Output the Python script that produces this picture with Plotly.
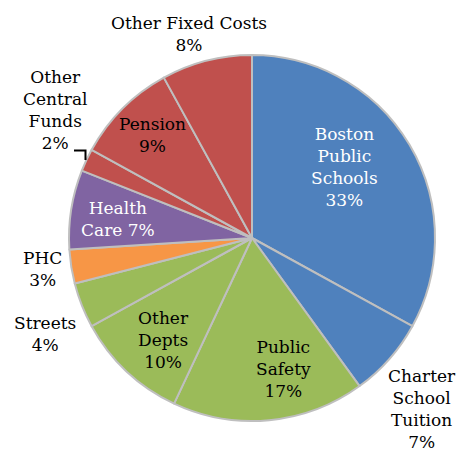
import plotly.graph_objects as go

categories = ["Boston Public Schools", "Charter School Tuition", "Public Safety", "Other Depts",
              "Streets", "PHC", "Health Care", "Other Central Funds", "Pension", "Other Fixed Costs"]
values = [33, 7, 17, 10, 4, 3, 7, 2, 9, 8]
label_texts = ["Boston<br>Public<br>Schools<br>33%", "Charter<br>School<br>Tuition<br>7%",
               "Public<br>Safety<br>17%", "Other<br>Depts<br>10%", "Streets<br>4%", "PHC<br>3%",
               "Health<br>Care 7%", "Other<br>Central<br>Funds<br>2%", "Pension<br>9%",
               "Other Fixed Costs<br>8%"]
colors = ["#4F81BD", "#4F81BD", "#9BBB59", "#9BBB59", "#9BBB59", "#F79646",
          "#8064A2", "#C0504D", "#C0504D", "#C0504D"]
label_colors = ["white", "black", "black", "black", "black", "black",
                "white", "black", "black", "black"]
# label centre positions in pixels (layout)
label_px = [(344, 167), (422, 409), (283, 369), (163, 340), (45, 334), (42, 269),
            (118, 219), (55, 110), (152, 135), (189, 34)]

W, H = 458, 451
ML, MR, MT, MB = 69, 23, 55, 30
PW, PH = W - ML - MR, H - MT - MB

def px2paper(x, y):
    return (x - ML) / PW, (H - MB - y) / PH

fig = go.Figure(go.Pie(
    labels=categories, values=values, sort=False, direction="clockwise", rotation=0,
    marker=dict(colors=colors, line=dict(color="#BFBFBF", width=2)),
    textinfo="none", hoverinfo="label+percent", showlegend=False,
))

annotations = []
for t, c, (x, y) in zip(label_texts, label_colors, label_px):
    xp, yp = px2paper(x, y)
    annotations.append(dict(x=xp, y=yp, xref="paper", yref="paper", text=t, showarrow=False,
                            xanchor="center", yanchor="middle",
                            font=dict(family="DejaVu Serif", size=17, color=c)))

x0, y0 = px2paper(74, 150.5)
x1, y1 = px2paper(85.5, 150.5)
x2, y2 = px2paper(85.5, 160)
fig.update_layout(
    width=W, height=H, autosize=False,
    margin=dict(l=ML, r=MR, t=MT, b=MB),
    paper_bgcolor="white", plot_bgcolor="white",
    annotations=annotations,
    shapes=[dict(type="path", xref="paper", yref="paper",
                 path=f"M {x0} {y0} L {x1} {y1} L {x2} {y2}",
                 line=dict(color="black", width=2))],
)
fig.write_html("out.html", config={"displayModeBar": False},
               post_script="document.body.style.margin='0';document.body.style.overflow='hidden';")
